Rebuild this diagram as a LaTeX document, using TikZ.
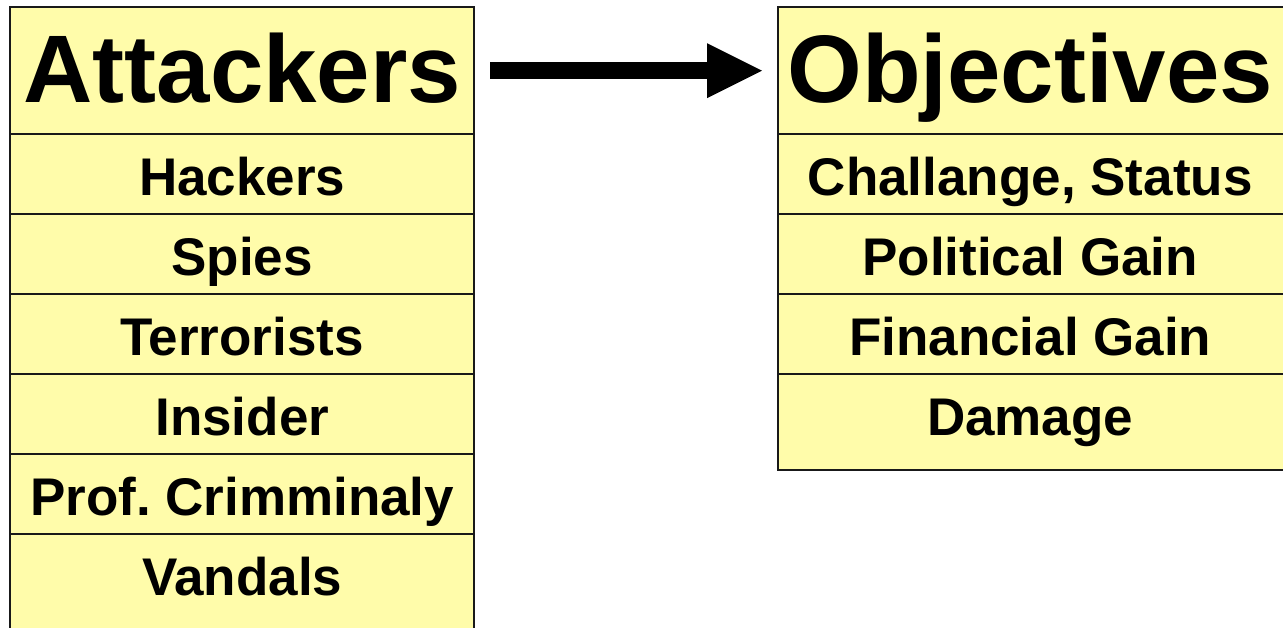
\documentclass[tikz,border=0pt]{standalone}
\usepackage{fontspec}
\setmainfont{Liberation Sans}
\usetikzlibrary{arrows.meta,backgrounds}
\definecolor{cellfill}{RGB}{255,252,170}
\definecolor{rule}{RGB}{25,25,25}
\frenchspacing
\begin{document}
\begin{tikzpicture}[x=1pt,y=-1pt,
  tablebox/.style={fill=cellfill,draw=rule,line width=2pt},
  sep/.style={draw=rule,line width=2pt},
  headcell/.style={anchor=north west,inner sep=0pt,minimum height=127pt,
    font=\fontsize{96}{100}\selectfont\bfseries,text height=79.5pt,text depth=16.5pt},
  rowcell/.style={anchor=north west,inner sep=0pt,minimum height=80pt,
    font=\fontsize{53}{56}\selectfont\bfseries,text height=47.5pt,text depth=5.5pt},
  leftcol/.style={minimum width=464pt},
  rightcol/.style={minimum width=504pt},
  bigarrow/.style={line width=17pt,shorten <=16pt,shorten >=16pt,
    -{Triangle[length=55pt,width=55pt,line width=0pt]}}]
\useasboundingbox (0,0) rectangle (1283,627);
\clip (0,0) rectangle (1283,627);

% text cells of the two columns
\node[headcell,leftcol] (hA) at (10,7) {Attackers};
\node[rowcell,leftcol] (a1) at (10,134) {Hackers};
\node[rowcell,leftcol] (a2) at (10,214) {Spies};
\node[rowcell,leftcol] (a3) at (10,294) {Terrorists};
\node[rowcell,leftcol] (a4) at (10,374) {Insider};
\node[rowcell,leftcol] (a5) at (10,454) {Prof. Crimminaly};
\node[rowcell,leftcol] (a6) at (10,534) {Vandals};

\node[headcell,rightcol] (hO) at (778,7) {Objectives};
\node[rowcell,rightcol] (o1) at (778,134) {Challange, Status};
\node[rowcell,rightcol] (o2) at (778,214) {Political Gain};
\node[rowcell,rightcol] (o3) at (778,294) {Financial Gain};
\node[rowcell,rightcol] (o4) at (778,374) {Damage};

% table frames and row rules, behind the text
\begin{scope}[on background layer]
  % left column runs on past the lower edge
  \path[tablebox] (hA.north west) rectangle (hA.east |- 0,660);
  \foreach \c in {hA,a1,a2,a3,a4,a5}
    \draw[sep] (\c.south west) -- (\c.south east);
  % right column runs on past the right edge
  \path[tablebox] (hO.north west) rectangle (1292,470);
  \foreach \c in {hO,o1,o2,o3}
    \draw[sep] (\c.south west) -- (\c.south east -| 1292,0);
\end{scope}

% link between the two headers
\draw[bigarrow] (hA.east) -- (hO.west);
\end{tikzpicture}
\end{document}
